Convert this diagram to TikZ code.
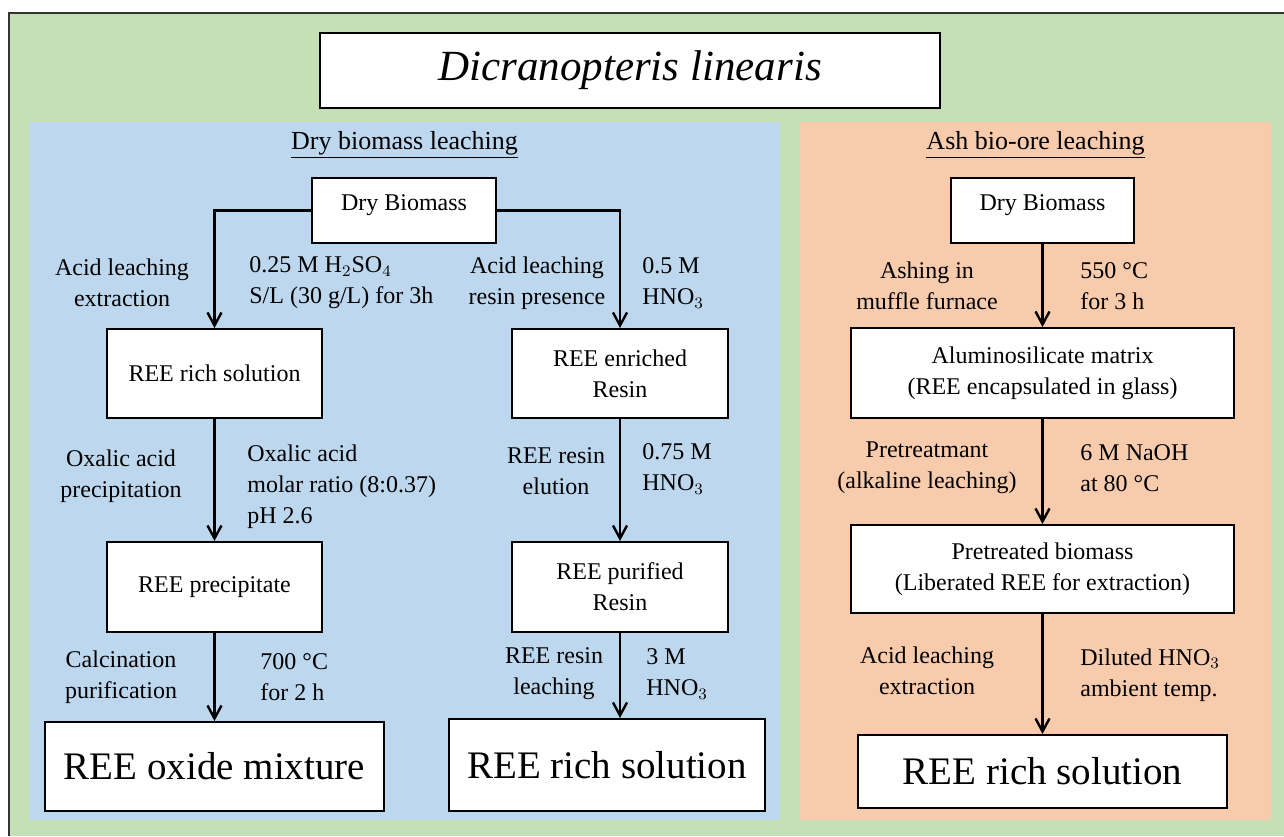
\documentclass[tikz,border=0pt]{standalone}
\usepackage{fontspec}
\setmainfont{Liberation Serif}
\usetikzlibrary{arrows.meta,positioning}
\definecolor{bggreen}{HTML}{C5E0B4}
\definecolor{panelblue}{HTML}{BDD7EE}
\definecolor{panelorange}{HTML}{F8CBAD}
\begin{document}
\begin{tikzpicture}[
  x=0.5pt, y=-0.5pt,
  box/.style     = {draw, line width=1pt, fill=white, inner sep=0pt,
                    align=center, font=\fontsize{12}{15.5}\selectfont},
  topbox/.style  = {box, text height=8.5pt, text depth=8.5pt},
  bigbox/.style  = {box, font=\fontsize{19.5}{23}\selectfont},
  lbl/.style     = {inner sep=0pt, align=center, font=\fontsize{12}{15.5}\selectfont},
  note/.style    = {lbl, align=left, anchor=west},
  head/.style    = {inner sep=0pt, font=\fontsize{13}{15}\selectfont},
  arr/.style     = {-{Straight Barb[length=6.5pt,width=7pt]}, line width=1.2pt},
]
\useasboundingbox (0,0) rectangle (1284,836);
\fill[white] (0,0) rectangle (1284,836);
% frame and panels
\fill[bggreen] (9,13) rectangle (1284,836);
\draw[draw=black!80, line width=1pt] (9,836) -- (9,13) -- (1284,13);
\fill[panelblue]   (29,122)  rectangle (780,820);
\fill[panelorange] (800,122) rectangle (1271,820);

\node[box, minimum width=310pt, minimum height=37.5pt,
      font=\fontsize{21.5}{25}\selectfont\itshape] (title) at (630,70.5) {Dicranopteris linearis};

% dry biomass leaching
\node[head] (hdry) at (404.5,145) {\underline{Dry biomass leaching}};
\node[topbox, minimum width=92pt, minimum height=32.5pt] (dry1) at (404,210.5) {Dry Biomass};
\node[box, minimum width=107.5pt, minimum height=44.5pt] (rich1) at (214.5,373.5) {REE rich solution};
\node[box, minimum width=107.75pt, minimum height=44.5pt] (enriched) at (620,373.5) {REE enriched\\Resin};
\node[box, minimum width=107.5pt, minimum height=45pt] (precip) at (214.5,587) {REE precipitate};
\node[box, minimum width=107.75pt, minimum height=45pt] (purified) at (620,587) {REE purified\\Resin};
\node[bigbox, minimum width=169.5pt, minimum height=44.5pt] (oxide) at (214.5,766.5) {REE oxide mixture};
\node[bigbox, minimum width=158pt, minimum height=46pt] (rich2) at (607,765) {REE rich solution};

\draw[arr] (dry1.west) -| (rich1.north);
\draw[arr] (dry1.east) -| (enriched.north);
\draw[arr] (rich1) -- (precip);
\draw[arr] (precip) -- (oxide);
\draw[arr] (enriched) -- (purified);
\draw[arr] (purified.south) -- (purified.south |- rich2.north);

\node[lbl]  (l1) at (122,283) {Acid leaching\\extraction};
\node[note] (n1) at (249,283) {0.25 M H$_2$SO$_4$\\S/L (30 g/L) for 3h};
\node[lbl]  (l2) at (537,283) {Acid leaching\\resin presence};
\node[note] (n2) at (642,283) {0.5 M\\HNO$_3$};
\node[lbl]  (l3) at (121,476) {Oxalic acid\\precipitation};
\node[note] (n3) at (247,487) {Oxalic acid\\molar ratio (8:0.37)\\pH 2.6};
\node[lbl]  (l4) at (556,471) {REE resin\\elution};
\node[note] (n4) at (642,469) {0.75 M\\HNO$_3$};
\node[lbl]  (l5) at (121,677) {Calcination\\purification};
\node[note] (n5) at (260,677) {700 °C\\for 2 h};
\node[lbl]  (l6) at (554,674) {REE resin\\leaching};
\node[note] (n6) at (646,674) {3 M\\HNO$_3$};

% ash bio-ore leaching
\node[head] (hash) at (1035.5,145) {\underline{Ash bio-ore leaching}};
\node[topbox, minimum width=91.5pt, minimum height=32.5pt] (dry2) at (1042.5,210.5) {Dry Biomass};
\node[box, minimum width=191.5pt, minimum height=45pt] (alumino) at (1042.5,373) {Aluminosilicate matrix\\(REE encapsulated in glass)};
\node[box, minimum width=191.5pt, minimum height=44pt] (pretreat) at (1042.5,569) {Pretreated biomass\\(Liberated REE for extraction)};
\node[bigbox, minimum width=184.5pt, minimum height=36.5pt] (rich3) at (1042.5,771.5) {REE rich solution};

\draw[arr] (dry2) -- (alumino);
\draw[arr] (alumino) -- (pretreat);
\draw[arr] (pretreat) -- (rich3);

\node[lbl]  (l7) at (927,286) {Ashing in\\muffle furnace};
\node[note] (n7) at (1080,286) {550 °C\\for 3 h};
\node[lbl]  (l8) at (927,468) {Pretreatmant\\(alkaline leaching)};
\node[note] (n8) at (1080,468) {6 M NaOH\\at 80 °C};
\node[lbl]  (l9) at (927,671) {Acid leaching\\extraction};
\node[note] (n9) at (1080,675) {Diluted HNO$_3$\\ambient temp.};
\end{tikzpicture}
\end{document}
